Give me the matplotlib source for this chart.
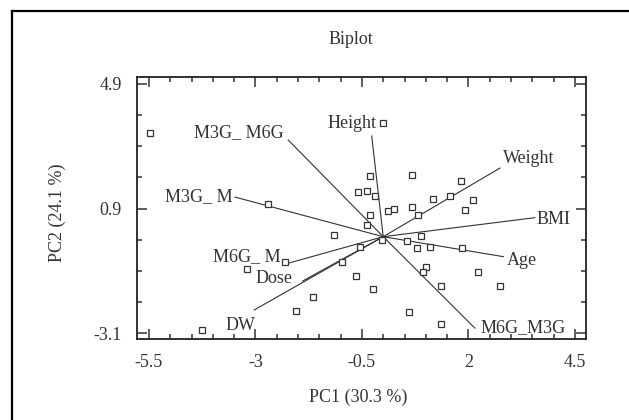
import matplotlib
matplotlib.use("Agg")
import matplotlib.pyplot as plt
from matplotlib.lines import Line2D
from matplotlib.ticker import MultipleLocator, FixedLocator

# -- DATA ---------------------------------------------------------------
# observation scores (PC1, PC2)
score_pc1 = [-5.48, -2.70, -1.16, -2.30, -3.19, -0.97, -0.55, -0.64, -1.65, -2.05,
             -4.26, -0.38, -0.30, -0.60, -0.38, -0.30, -0.01, -0.19, -0.04, 0.67,
             1.83, 1.17, 1.57, 2.11, 1.93, 0.67, 0.82, 0.12, 0.25, 0.89,
             0.56, 0.79, 1.10, 1.85, 2.22, 1.01, 0.93, 1.36, 2.74, -0.25,
             0.60, 1.36]
score_pc2 = [3.32, 1.05, 0.04, -0.80, -1.04, -0.81, -0.32, -1.26, -1.93, -2.37,
             -2.99, 0.37, 0.70, 1.44, 1.46, 1.93, 3.66, 1.29, -0.12, 1.98,
             1.79, 1.22, 1.31, 1.18, 0.84, 0.95, 0.69, 0.83, 0.89, 0.03,
             -0.15, -0.36, -0.32, -0.35, -1.13, -0.96, -1.13, -1.58, -1.57, -1.67,
             -2.40, -2.79]

# variable loadings (scaled)
var_names = ["Height", "Weight", "BMI", "Age", "M6G_M3G",
             "M3G_ M6G", "M3G_ M", "M6G_ M", "Dose", "DW"]
load_pc1 = [-0.27, 2.74, 3.56, 2.82, 2.15, -2.23, -3.48, -2.28, -1.89, -3.03]
load_pc2 = [3.23, 2.20, 0.61, -0.64, -2.93, 3.10, 1.27, -0.87, -1.42, -2.35]

x_ticks = [-5.5, -3, -0.5, 2, 4.5]
y_ticks = [4.9, 0.9, -3.1]

# label offsets in points (style only)
label_offsets = {
    "Height": (-14, 9), "Weight": (21, 7), "BMI": (13.5, -1.5), "Age": (13.5, -2.5),
    "M6G_M3G": (35, 0), "M3G_ M6G": (-35.5, 5), "M3G_ M": (-26, 0.5),
    "M6G_ M": (-28, 5), "Dose": (-21, 1.5), "DW": (-9.5, -11),
}

# -- PLOT ---------------------------------------------------------------
plt.rcParams['font.family'] = ['Liberation Serif', 'DejaVu Serif']
ink = "#333333"

fig = plt.figure(figsize=(6.29, 4.2), dpi=100)
ax = fig.add_axes([137 / 629, 1 - 339 / 420, 449 / 629, 262 / 420])

# loading vectors
for name, vx, vy in zip(var_names, load_pc1, load_pc2):
    ax.plot([0, vx], [0, vy], color=ink, lw=0.8, zorder=2)
    ax.annotate(name, (vx, vy), xytext=label_offsets[name], textcoords="offset points",
                ha="center", va="center", fontsize=13, color=ink)

# scores
ax.plot(score_pc1, score_pc2, linestyle="none", marker="s", ms=4.2,
        mfc="white", mec=ink, mew=0.9, zorder=3)

ax.set_xlim(-5.78, 4.76)
ax.set_ylim(-3.28, 5.12)
ax.xaxis.set_major_locator(FixedLocator(x_ticks))
ax.xaxis.set_minor_locator(MultipleLocator(0.5))
ax.yaxis.set_major_locator(FixedLocator(y_ticks))
ax.yaxis.set_minor_locator(FixedLocator([4.9 - i for i in range(9)]))
ax.set_xticklabels([f"{t:g}" for t in x_ticks])
ax.set_yticklabels([f"{t:g}" for t in y_ticks])
ax.tick_params(which="both", direction="in", top=True, right=True, colors=ink,
               labelsize=13, width=1.1)
ax.tick_params(which="major", length=7)
ax.tick_params(which="minor", length=3.5)
ax.tick_params(axis="x", pad=11)
ax.tick_params(axis="y", pad=11)
for sp in ax.spines.values():
    sp.set_linewidth(1.3)
    sp.set_color("#222222")

fig.text(351 / 629, 1 - 39 / 420, "Biplot", ha="center", va="center", fontsize=13, color=ink)
fig.text(358 / 629, 1 - 397 / 420, "PC1 (30.3 %)", ha="center", va="center", fontsize=13, color=ink)
fig.text(57 / 629, 1 - 213 / 420, "PC2 (24.1 %)", ha="center", va="center", rotation=90,
         fontsize=13, color=ink)

# outer frame (left and top edges only visible)
fig.add_artist(Line2D([12 / 629, 12 / 629], [0, 1 - 11 / 420], color="black", lw=1.6,
                      transform=fig.transFigure))
fig.add_artist(Line2D([12 / 629, 1], [1 - 11 / 420, 1 - 11 / 420], color="black", lw=1.6,
                      transform=fig.transFigure))

fig.savefig("out.png", dpi=100)
